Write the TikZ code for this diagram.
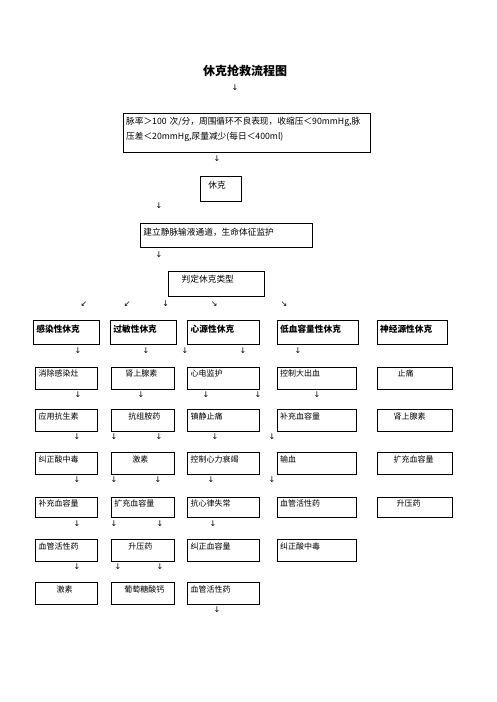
\documentclass[tikz,border=0pt]{standalone}
\usepackage{fontspec}
\setmainfont{Noto Sans CJK SC}
\newfontfamily\arrowfont{DejaVu Sans}

\tikzstyle{cell} = [draw, line width=0.8pt, anchor=north west, inner xsep=3pt, inner ysep=0pt, align=left, font=\fontsize{8}{10}\selectfont, text height=9.3pt, text depth=12.7pt]
\tikzstyle{head} = [cell, font=\bfseries\fontsize{8.7}{11}\selectfont, text height=11.6pt, text depth=12.7pt]
\tikzstyle{top} = [cell, font=\fontsize{8.7}{15}\selectfont, text height=11.6pt, text depth=12.6pt]
\tikzstyle{arw} = [inner sep=0pt, font=\arrowfont\fontsize{8}{8}\selectfont]

\begin{document}
\begin{tikzpicture}[x=1pt,y=-1pt]
\useasboundingbox (0,0) rectangle (496,702);

\node[font=\bfseries\fontsize{12}{14}\selectfont] (title) at (245,71) {休克抢救流程图};
\node[arw] (d0) at (235,88) {↓};

% top chain
\node[top, text width=241.3pt, text depth=27.4pt] (pulse) at (122.7,112.7) {脉率＞100 次/分，周围循环不良表现，收缩压＜90mmHg,脉\\压差＜20mmHg,尿量减少(每日＜400ml)};
\node[arw] (d1) at (217,159) {↓};
\node[top, text width=34.7pt, text depth=13.1pt] (shock) at (200,176) {\hspace*{5pt}休克};
\node[arw] (d2) at (159,206) {↓};
\node[top, text width=165.7pt, text depth=12.4pt] (line) at (140,223.3) {建立静脉输液通道，生命体征监护};
\node[arw] (d3) at (159,254.5) {↓};
\node[top, text width=90pt, text height=11.3pt, text depth=13.4pt] (judge) at (168.3,271) {\hspace*{10pt}判定休克类型};

\node[arw] (b1) at (84,304) {↙};
\node[arw] (b2) at (127.3,304) {↙};
\node[arw] (b3) at (165.7,304) {↓};
\node[arw] (b4) at (214.3,304) {↘};
\node[arw] (b5) at (284,304) {↘};

% row 1: types
\node[head, text width=59.7pt] (r1c1) at (33,320) {感染性休克};
\node[head, text width=59.7pt] (r1c2) at (110,320) {过敏性休克};
\node[head, text width=65.7pt] (r1c3) at (187.3,320) {心源性休克};
\node[head, text width=75.3pt] (r1c4) at (276.7,320) {低血容量性休克};
\node[head, text width=64.3pt] (r1c5) at (376.7,320) {神经源性休克};

\node[arw] (d11) at (78,351) {↓};
\node[arw] (d12) at (146,351) {↓};
\node[arw] (d13) at (185,351) {↓};
\node[arw] (d14) at (243,351) {↓};
\node[arw] (d15) at (298,351) {↓};

% row 2
\node[cell, text width=55.7pt] (r2c1) at (35.3,366.7) {消除感染灶};
\node[cell, text width=57pt] (r2c2) at (111,366.7) {\hspace*{11pt}肾上腺素};
\node[cell, text width=66pt] (r2c3) at (187.3,366.7) {心电监护};
\node[cell, text width=73.3pt] (r2c4) at (276.7,366.7) {控制大出血};
\node[cell, text width=69pt] (r2c5) at (377.3,366.7) {\hspace*{17pt}止痛};

\node[arw] (d21) at (78,394.3) {↓};
\node[arw] (d22) at (141,394.3) {↓};
\node[arw] (d23) at (206,394.3) {↓};
\node[arw] (d24) at (258,394.3) {↓};
\node[arw] (d25) at (317,394.3) {↓};

% row 3
\node[cell, text width=55.7pt] (r3c1) at (35.3,409.3) {应用抗生素};
\node[cell, text width=57pt] (r3c2) at (111,409.3) {\hspace*{14pt}抗组胺药};
\node[cell, text width=66pt] (r3c3) at (187.3,409.3) {镇静止痛};
\node[cell, text width=73.3pt] (r3c4) at (276.7,409.3) {补充血容量};
\node[cell, text width=69pt] (r3c5) at (377.3,409.3) {\hspace*{13pt}肾上腺素};

\node[arw] (d31) at (77,436.7) {↓};
\node[arw] (d32) at (114,436.7) {↓};
\node[arw] (d33) at (159,436.7) {↓};
\node[arw] (d34) at (215,436.7) {↓};
\node[arw] (d35) at (272,436.7) {↓};

% row 4
\node[cell, text width=55.7pt] (r4c1) at (35.3,452.3) {纠正酸中毒};
\node[cell, text width=57pt] (r4c2) at (111,452.3) {\hspace*{18pt}激素};
\node[cell, text width=66pt] (r4c3) at (187.3,452.3) {控制心力衰竭};
\node[cell, text width=73.3pt] (r4c4) at (276.7,452.3) {输血};
\node[cell, text width=69pt] (r4c5) at (377.3,452.3) {\hspace*{13pt}扩充血容量};

\node[arw] (d41) at (77,480) {↓};
\node[arw] (d42) at (114,480) {↓};
\node[arw] (d43) at (158,480) {↓};
\node[arw] (d44) at (211,480) {↓};
\node[arw] (d45) at (272,480) {↓};

% row 5
\node[cell, text width=55.7pt, text depth=11.3pt] (r5c1) at (35.3,496.7) {补充血容量};
\node[cell, text width=57pt, text depth=11.3pt] (r5c2) at (111,496.7) {扩充血容量};
\node[cell, text width=66pt, text depth=11.3pt] (r5c3) at (187.3,496.7) {抗心律失常};
\node[cell, text width=73.3pt, text depth=11.3pt] (r5c4) at (276.7,496.7) {血管活性药};
\node[cell, text width=69pt, text depth=11.3pt] (r5c5) at (377.3,496.7) {\hspace*{16pt}升压药};

\node[arw] (d51) at (77,524) {↓};
\node[arw] (d52) at (114,524) {↓};
\node[arw] (d53) at (160,524) {↓};
\node[arw] (d54) at (213,524) {↓};

% row 6
\node[cell, text width=55.7pt] (r6c1) at (35.3,539.3) {血管活性药};
\node[cell, text width=57pt] (r6c2) at (111,539.3) {\hspace*{14pt}升压药};
\node[cell, text width=66pt] (r6c3) at (187.3,539.3) {纠正血容量};
\node[cell, text width=73.3pt] (r6c4) at (276.7,539.3) {纠正酸中毒};

\node[arw] (d61) at (77,566.7) {↓};
\node[arw] (d62) at (118,566.7) {↓};
\node[arw] (d63) at (160,566.7) {↓};

% row 7
\node[cell, text width=55.7pt] (r7c1) at (35.3,582.3) {\hspace*{18pt}激素};
\node[cell, text width=57pt] (r7c2) at (111,582.3) {\hspace*{10pt}葡萄糖酸钙};
\node[cell, text width=66pt] (r7c3) at (187.3,582.3) {血管活性药};

\node[arw] (d71) at (217,610) {↓};

\end{tikzpicture}
\end{document}
